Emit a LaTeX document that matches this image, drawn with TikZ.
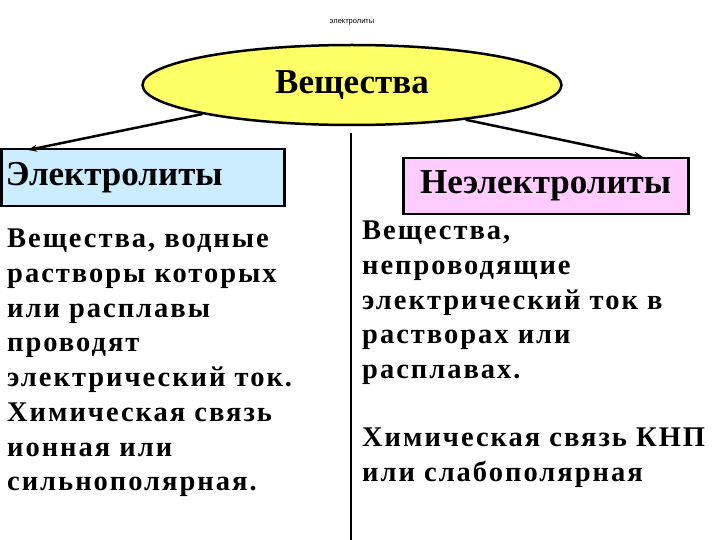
\documentclass[tikz,border=0pt]{standalone}
\usepackage{fontspec}
\setmainfont{Liberation Serif}
\newfontfamily\bodyfont[LetterSpace=7]{Liberation Serif}
\newfontfamily\smallsans{Liberation Sans}
\usetikzlibrary{shapes.geometric,arrows.meta}
\begin{document}
\begin{tikzpicture}[x=1pt,y=-1pt,
  head/.style={draw,line width=2.5pt,font=\bfseries\fontsize{35}{38}\selectfont,inner sep=0pt,anchor=north west},
  body/.style={align=left,anchor=north west,inner sep=0pt,font=\bodyfont\bfseries\fontsize{28.5}{34.7}\selectfont},
  conn/.style={line width=2.5pt,-{Stealth[length=9pt,width=7pt]}}]
\useasboundingbox (0,0) rectangle (720,540);
\node[font=\smallsans\fontsize{7.5}{9}\selectfont] (t) at (352,22) {электролиты};
\node[ellipse,draw,line width=2.5pt,fill={rgb,255:red,255;green,255;blue,102},minimum width=419pt,minimum height=80pt,inner sep=0pt,font=\bfseries\fontsize{35}{38}\selectfont] (v) at (352,85) {Вещества};
\node[head,fill={rgb,255:red,204;green,236;blue,255},minimum width=283pt,minimum height=57pt,text width=280pt,align=left] (e) at (0,148) {\hspace{3pt}Электролиты};
\node[head,fill={rgb,255:red,255;green,204;blue,255},minimum width=285pt,minimum height=56pt,align=center] (n) at (402,157) {Неэлектролиты};
\coordinate (l1) at (351,133);
\coordinate (l2) at (351,540);
\draw[line width=1.2pt] (l1) -- (l2);
\coordinate (ea) at (28,150);
\coordinate (na) at (643,157);
\draw[conn] (v.191) -- (ea);
\draw[conn] (v.343) -- (na);
\node[body] (bl) at (7,229) {Вещества, водные\\растворы которых\\или расплавы\\проводят\\электрический ток.\\Химическая связь\\ионная или\\сильнополярная.};
\node[body] (br) at (362,221) {Вещества,\\непроводящие\\электрический ток в\\растворах или\\расплавах.};
\node[body] (br2) at (362,428) {Химическая связь КНП\\или слабополярная};
\end{tikzpicture}
\end{document}
